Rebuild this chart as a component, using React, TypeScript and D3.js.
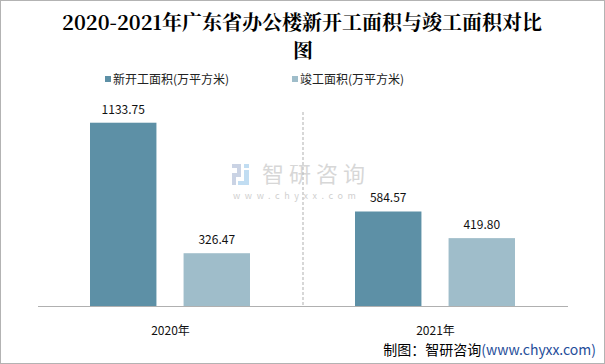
import React, { useEffect, useRef } from 'react';
import * as d3 from 'd3';

const categories = ['2020年', '2021年'];
const seriesNames = ['新开工面积(万平方米)', '竣工面积(万平方米)'];
const startedArea = [1133.75, 584.57];
const completedArea = [326.47, 419.8];
const colors = ['#5d90a6', '#9fbdca'];

function App() {
  const ref = useRef<SVGSVGElement | null>(null);

  useEffect(() => {
    const el = ref.current;
    if (!el) return;
    const svg = d3.select(el);
    svg.selectAll('*').remove();

    const width = 605;
    const height = 364;
    const font = '"Microsoft YaHei", "Noto Sans CJK SC", sans-serif';

    // frame
    svg
      .append('rect')
      .attr('x', 0.5)
      .attr('y', 0.5)
      .attr('width', width - 1)
      .attr('height', height - 1)
      .attr('fill', '#fff')
      .attr('stroke', '#b3b3b3');

    // title
    const title = svg
      .append('text')
      .attr('text-anchor', 'middle')
      .style('font-family', '"Noto Serif CJK SC", "DejaVu Serif", "Noto Sans CJK SC", serif')
      .style('font-weight', 'bold')
      .style('font-size', '20px')
      .attr('fill', '#000');
    title.append('tspan').attr('x', 302).attr('y', 30).text('2020-2021年广东省办公楼新开工面积与竣工面积对比');
    title.append('tspan').attr('x', 303).attr('y', 58).text('图');

    // legend
    const legendX = [105, 292];
    seriesNames.forEach((name, i) => {
      svg
        .append('rect')
        .attr('x', legendX[i])
        .attr('y', 76)
        .attr('width', 6)
        .attr('height', 6)
        .attr('fill', colors[i]);
      svg
        .append('text')
        .attr('x', legendX[i] + 8)
        .attr('y', 84)
        .style('font-family', font)
        .style('font-size', '12px')
        .attr('fill', '#222')
        .text(name);
    });

    const x0 = d3.scaleBand().domain(categories).range([38, 568]);
    const x1 = d3.scaleBand().domain(['a', 'b']).range([52, 212]).paddingInner(0.29);
    const y = d3.scaleLinear().domain([0, 1200]).range([306, 112]);

    // watermark
    const wm = svg.append('g').attr('opacity', 0.55);
    wm.append('rect').attr('x', 232).attr('y', 164).attr('width', 9).attr('height', 4).attr('fill', '#9fb0cf');
    wm.append('rect').attr('x', 237).attr('y', 168).attr('width', 4).attr('height', 5).attr('fill', '#9fb0cf');
    wm.append('rect').attr('x', 232).attr('y', 173).attr('width', 9).attr('height', 4).attr('fill', '#9fb0cf');
    wm.append('rect').attr('x', 232).attr('y', 177).attr('width', 4).attr('height', 8).attr('fill', '#9fb0cf');
    wm.append('rect').attr('x', 244).attr('y', 164).attr('width', 5).attr('height', 4).attr('fill', '#8fc3e8');
    wm.append('rect').attr('x', 244).attr('y', 170).attr('width', 5).attr('height', 15).attr('fill', '#8fc3e8');
    wm.append('rect').attr('x', 238).attr('y', 181).attr('width', 11).attr('height', 4).attr('fill', '#8fc3e8');
    wm.append('text')
      .attr('x', 262)
      .attr('y', 182)
      .style('font-family', font)
      .style('font-size', '22px')
      .style('letter-spacing', '5px')
      .attr('fill', '#b8b8b8')
      .text('智研咨询');
    wm.append('text')
      .attr('x', 233)
      .attr('y', 199)
      .style('font-family', font)
      .style('font-size', '9px')
      .style('letter-spacing', '4.6px')
      .attr('fill', '#aaa')
      .text('www.chyxx.com');

    // separator
    svg
      .append('line')
      .attr('x1', x0('2021年') as number)
      .attr('x2', x0('2021年') as number)
      .attr('y1', y(1200))
      .attr('y2', y(0))
      .attr('stroke', '#bdbdbd')
      .attr('stroke-width', 1.2)
      .attr('stroke-dasharray', '3,2');

    // bars
    const groups = svg
      .selectAll('g.cat')
      .data(categories)
      .join('g')
      .attr('class', 'cat')
      .attr('transform', (d) => `translate(${x0(d)},0)`);

    groups.each(function (cat, i) {
      const g = d3.select(this);
      const vals = [startedArea[i], completedArea[i]];
      vals.forEach((v, j) => {
        const key = j === 0 ? 'a' : 'b';
        g.append('rect')
          .attr('x', x1(key) as number)
          .attr('y', y(v))
          .attr('width', x1.bandwidth())
          .attr('height', y(0) - y(v))
          .attr('fill', colors[j]);
        g.append('text')
          .attr('x', (x1(key) as number) + x1.bandwidth() / 2)
          .attr('y', y(v) - 9)
          .attr('text-anchor', 'middle')
          .style('font-family', font)
          .style('font-size', '12px')
          .attr('fill', '#111')
          .text(v.toFixed(2));
      });
      g.append('text')
        .attr('x', x0.bandwidth() / 2)
        .attr('y', 335)
        .attr('text-anchor', 'middle')
        .style('font-family', font)
        .style('font-size', '12px')
        .attr('fill', '#111')
        .text(cat);
    });

    // axis line
    svg
      .append('line')
      .attr('x1', 38)
      .attr('x2', 568)
      .attr('y1', y(0) + 0.5)
      .attr('y2', y(0) + 0.5)
      .attr('stroke', '#b0b0b0')
      .attr('stroke-width', 1);

    // source
    const src = svg
      .append('text')
      .attr('x', 596)
      .attr('y', 355)
      .attr('text-anchor', 'end')
      .style('font-family', font)
      .style('font-size', '14px')
      .attr('fill', '#000');
    src.append('tspan').text('制图：智研咨询');
    src.append('tspan').attr('fill', '#1f4e9a').text('(www.chyxx.com)');
  }, []);

  return (
    <svg
      ref={ref}
      width={605}
      height={364}
      style={{ display: 'block', position: 'absolute', left: 0, top: 0 }}
    />
  );
}

export default App;
